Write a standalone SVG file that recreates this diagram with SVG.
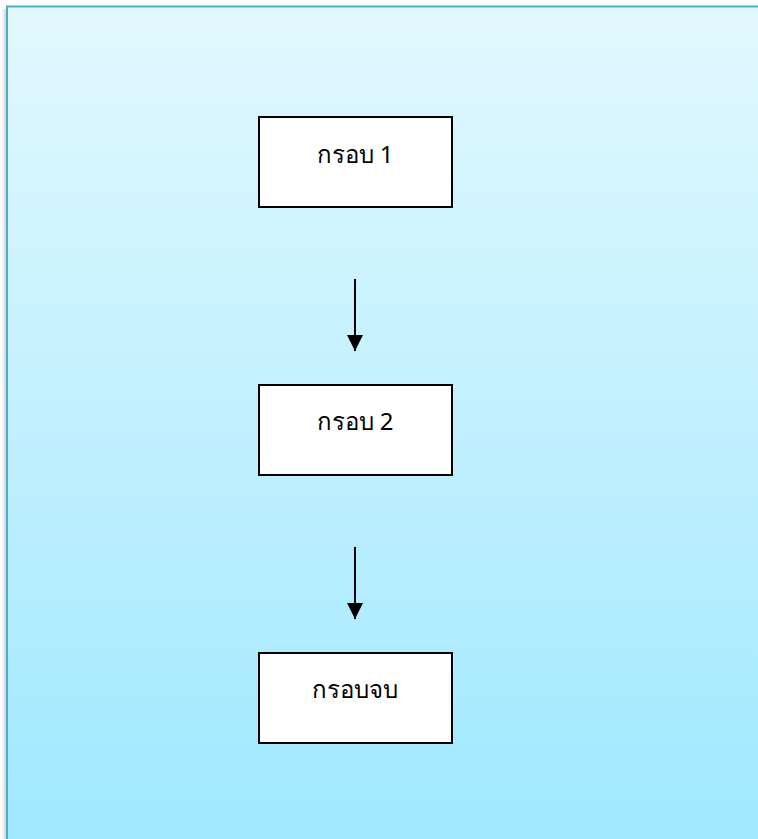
<svg xmlns="http://www.w3.org/2000/svg" width="758" height="839" viewBox="0 0 758 839">
<defs>
<linearGradient id="bg" x1="0" y1="0" x2="0" y2="1">
<stop offset="0" stop-color="#E2F8FF"/>
<stop offset="1" stop-color="#9FE8FF"/>
</linearGradient>
<linearGradient id="sh" x1="0" y1="0" x2="1" y2="0">
<stop offset="0" stop-color="#ffffff" stop-opacity="0"/>
<stop offset="1" stop-color="#bdbdbd"/>
</linearGradient>
<marker id="ah" viewBox="0 0 10 10" refX="10" refY="5" markerWidth="16" markerHeight="16" markerUnits="userSpaceOnUse" orient="auto">
<path d="M0,0 L10,5 L0,10 z" fill="#000"/>
</marker>
<style>
.box{fill:#fff;stroke:#000;stroke-width:2}
.lbl{font-family:"Noto Sans","DejaVu Sans",Tahoma,sans-serif;font-size:24px;fill:#000;text-anchor:middle}
.con{stroke:#000;stroke-width:2;fill:none}
</style>
</defs>
<rect x="0" y="0" width="758" height="839" fill="#fff"/>
<rect x="0" y="9" width="7" height="830" fill="url(#sh)"/>
<rect x="7" y="6.5" width="760" height="840" fill="url(#bg)" stroke="#4BACC6" stroke-width="2"/>
<g id="node1">
<rect class="box" x="259" y="117" width="193" height="90"/>
<text class="lbl" x="355" y="163">กรอบ 1</text>
</g>
<g id="node2">
<rect class="box" x="259" y="385" width="193" height="90"/>
<text class="lbl" x="355" y="430">กรอบ 2</text>
</g>
<g id="node3">
<rect class="box" x="259" y="653" width="193" height="90"/>
<text class="lbl" x="355" y="698">กรอบจบ</text>
</g>
<g id="connectors">
<line class="con" x1="355" y1="279" x2="355" y2="351" marker-end="url(#ah)"/>
<line class="con" x1="355" y1="547" x2="355" y2="619" marker-end="url(#ah)"/>
</g>
</svg>
